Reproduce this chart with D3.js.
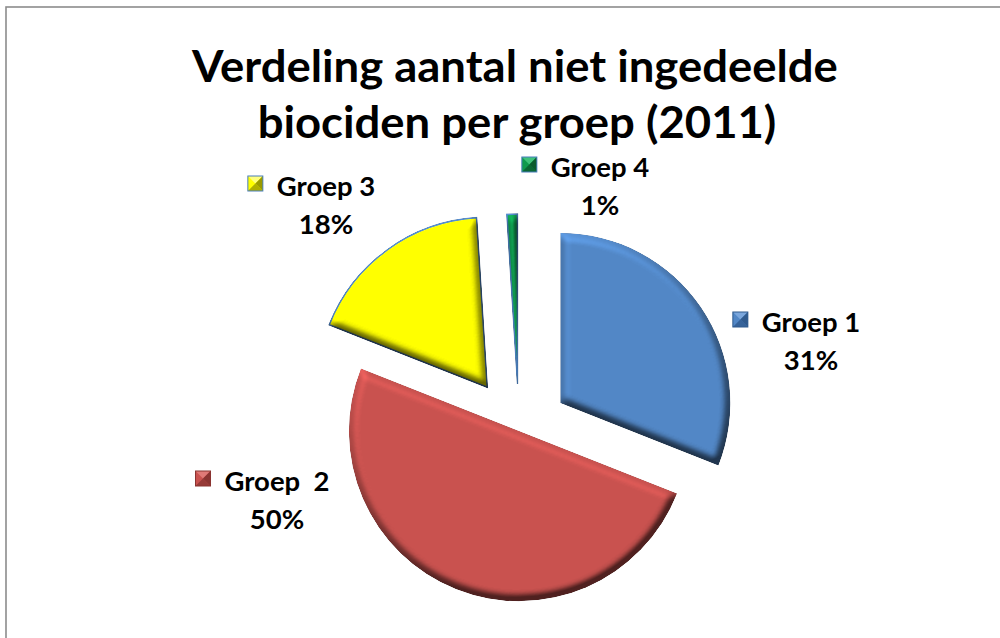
<!DOCTYPE html>
<html>
<head>
<meta charset="utf-8">
<script src="https://cdn.jsdelivr.net/npm/d3@7"></script>
<style>
  html, body { margin: 0; padding: 0; background: #fff; }
  svg { display: block; }
  text { font-family: Lato, "Open Sans", sans-serif; font-weight: 700; fill: #000; white-space: pre; }
</style>
</head>
<body>
<script>
// ---------- data ----------
const categories = ["Groep 1", "Groep  2", "Groep 3", "Groep 4"];
const values = [31, 50, 18, 1];
const percentLabels = ["31%", "50%", "18%", "1%"];
const titleLines = ["Verdeling aantal niet ingedeelde", "biociden per groep (2011)"];

// ---------- style / layout ----------
const W = 1000, H = 638;
const colors = ["#5287c6", "#c9524f", "#ffff00", "#0f9a4e"];
const lightColors = ["#7aa6dc", "#e07a77", "#ffff80", "#3fc27a"];
const darkColors = ["#2f5a8e", "#8a3431", "#9a9a00", "#0a5a2e"];
const outline = [null, null, "#4a7ebb", "#4a7ebb"];
const explode = [50, 0, 54, 47];
const cx = 519, cy = 431, R = 170;
// label anchor offsets from the pie centre (centre of name line, baseline)
const labelOffsets = [[292, -99], [-242, 60], [-193, -235], [81, -254]];
const pctGap = 38;

const svg = d3.select("body").append("svg").attr("width", W).attr("height", H);
const defs = svg.append("defs");

const elev = 50, strength = 0.6;
const f = defs.append("filter").attr("id", "bevel")
  .attr("x", "-5%").attr("y", "-5%").attr("width", "110%").attr("height", "110%")
  .attr("color-interpolation-filters", "sRGB");
f.append("feGaussianBlur").attr("in", "SourceAlpha").attr("stdDeviation", 4.5).attr("result", "blur");
const dl = f.append("feDiffuseLighting").attr("in", "blur").attr("surfaceScale", 10)
  .attr("diffuseConstant", 1).attr("lighting-color", "#ffffff").attr("result", "light");
dl.append("feDistantLight").attr("azimuth", 245).attr("elevation", elev);
f.append("feComposite").attr("in", "SourceGraphic").attr("in2", "light")
  .attr("operator", "arithmetic").attr("k1", strength / Math.sin(elev * Math.PI / 180))
  .attr("k2", 1 - strength).attr("k3", 0).attr("k4", 0).attr("result", "lit");
f.append("feComposite").attr("in", "lit").attr("in2", "SourceAlpha").attr("operator", "in");

// frame
svg.append("rect").attr("x", 6).attr("y", 7).attr("width", W + 20).attr("height", H + 20)
  .attr("fill", "none").attr("stroke", "#8c8c8c").attr("stroke-width", 1.6);

// ---------- pie ----------
const pie = d3.pie().sort(null).value(d => d).startAngle(0).endAngle(2 * Math.PI);
const arcs = pie(values);
const arc = d3.arc().innerRadius(0).outerRadius(R);

const slices = svg.append("g").attr("transform", `translate(${cx},${cy})`);
slices.selectAll("path").data(arcs).join("path")
  .attr("d", arc)
  .attr("transform", (d, i) => {
    const m = (d.startAngle + d.endAngle) / 2;
    return `translate(${explode[i] * Math.sin(m)},${-explode[i] * Math.cos(m)})`;
  })
  .attr("fill", (d, i) => colors[i])
  .attr("stroke", (d, i) => outline[i] || "none")
  .attr("stroke-width", 1.6)
  .attr("stroke-linejoin", "miter")
  .attr("filter", "url(#bevel)");

// ---------- texts ----------
const texts = [];
const tg = svg.append("g");
titleLines.forEach((t, i) => {
  texts.push(tg.append("text").attr("text-anchor", "middle").attr("font-size", 43)
    .datum({ x: i === 0 ? 515 : 517, y: i === 0 ? 82 : 138 }).text(t));
});

const lg = svg.append("g");
arcs.forEach((d, i) => {
  const x = cx + labelOffsets[i][0], y = cy + labelOffsets[i][1];
  const name = lg.append("text").attr("text-anchor", "middle").attr("font-size", 26)
    .attr("xml:space", "preserve")
    .datum({ x, y, marker: i }).text(categories[i]);
  texts.push(name);
  texts.push(lg.append("text").attr("text-anchor", "middle").attr("font-size", 26)
    .datum({ x, y: y + pctGap }).text(percentLabels[i]));
});

// horizontal compression to mimic the narrow original face
const w0 = texts[0].node().getComputedTextLength();
const sx = 646 / w0;
texts.forEach(t => {
  const d = t.datum();
  t.attr("transform", `translate(${d.x},${d.y}) scale(${sx},1)`);
  if (d.marker !== undefined) {
    const i = d.marker;
    const tw = t.node().getComputedTextLength() * sx;
    const s = 15, x1 = d.x - tw / 2 - 14 - s, y1 = d.y - 20;
    const mg = lg.append("g").attr("transform", `translate(${x1},${y1})`);
    mg.append("rect").attr("width", s).attr("height", s).attr("fill", colors[i]);
    mg.append("path").attr("d", `M0,0L${s},0L${s / 2},${s / 2}Z`).attr("fill", lightColors[i]);
    mg.append("path").attr("d", `M${s},0L${s},${s}L${s / 2},${s / 2}Z`).attr("fill", darkColors[i]);
    mg.append("path").attr("d", `M0,${s}L${s},${s}L${s / 2},${s / 2}Z`).attr("fill", darkColors[i]).attr("opacity", 0.8);
    mg.append("rect").attr("width", s).attr("height", s).attr("fill", "none")
      .attr("stroke", outline[i] || darkColors[i]).attr("stroke-width", 1);
  }
});
</script>
</body>
</html>
